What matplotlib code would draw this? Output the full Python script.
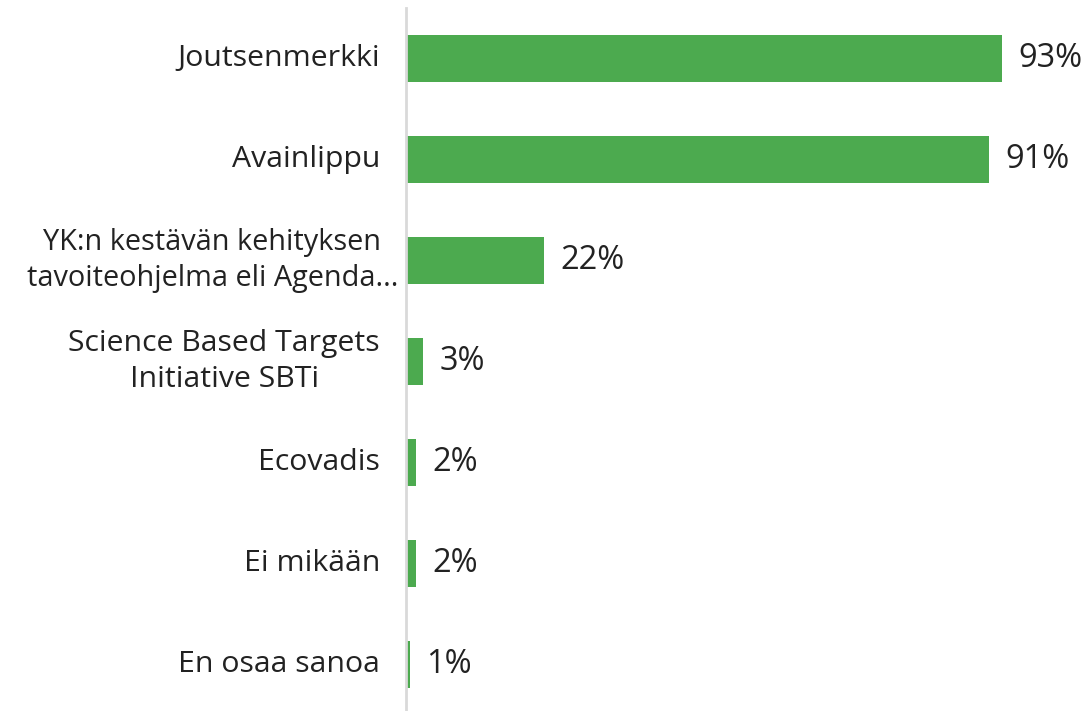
import matplotlib
matplotlib.use("Agg")
import matplotlib.pyplot as plt

categories = ["Joutsenmerkki", "Avainlippu",
              "YK:n kestävän kehityksen\ntavoiteohjelma eli Agenda...",
              "Science Based Targets\nInitiative SBTi",
              "Ecovadis", "Ei mikään", "En osaa sanoa"]
values = [93, 91, 21.6, 2.7, 1.6, 1.6, 0.7]
labels = ["93%", "91%", "22%", "3%", "2%", "2%", "1%"]

W, H = 1088, 711
fig = plt.figure(figsize=(W / 100, H / 100), dpi=100)
left, right = 406, 406 + 641
top, bottom = 8, 711
ax = fig.add_axes([left / W, 1 - bottom / H, (right - left) / W, (bottom - top) / H])

green = "#4caa4f"
txt = "#222222"
font = "Open Sans"

pos = list(range(len(categories)))
ax.barh(pos, values, height=0.475, color=green, zorder=2)
ax.set_xlim(0, 100)
span = (bottom - top) / 101.0
ax.set_ylim(-0.5 + span, -0.5)

for p, v, lab, cat in zip(pos, values, labels, categories):
    ax.annotate(lab, (v, p), xytext=(16, 0), textcoords="offset pixels",
                ha="left", va="center", fontsize=23.5, color=txt, family=font,
                annotation_clip=False)
    # the long wrapped label overhangs toward the axis, as in the reference
    off = -8 if "Agenda" in cat else -26
    fs = 20.8 if "Agenda" in cat else 21.8
    ax.annotate(cat, (0, p), xytext=(off, 0), textcoords="offset pixels",
                ha="right", va="center", multialignment="center", fontsize=fs,
                color=txt, family=font, linespacing=1.3, annotation_clip=False)

for s in ["top", "right", "bottom"]:
    ax.spines[s].set_visible(False)
ax.spines["left"].set_color("#d9d9d9")
ax.spines["left"].set_linewidth(2)
ax.set_xticks([])
ax.set_yticks([])

fig.savefig("out.png", dpi=100)
